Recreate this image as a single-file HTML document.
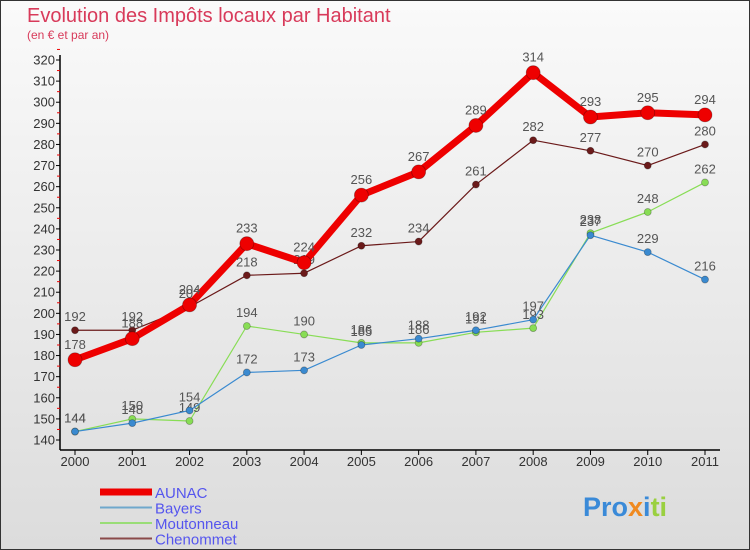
<!DOCTYPE html>
<html><head><meta charset="utf-8"><style>
body{margin:0;width:750px;height:550px;overflow:hidden;font-family:"Liberation Sans",sans-serif}
#c{position:absolute;left:0;top:0;width:748px;height:548px;border:1px solid #333;background:linear-gradient(#fafafa,#dcdcdc)}
</style></head><body>
<div id="c">
<svg id="s" width="750" height="550" style="position:absolute;left:-1px;top:-1px" font-family="Liberation Sans, sans-serif">
<text x="27" y="22" font-size="20" fill="#d83a5a">Evolution des Impôts locaux par Habitant</text>
<text x="27" y="39" font-size="12" fill="#d83a5a">(en € et par an)</text>
<g id="axes"></g><g id="plot"></g>
<text x="583" y="516" font-size="27" font-weight="bold" fill="#3a8ad8">Pro<tspan fill="#f08a20">x</tspan><tspan fill="#3a8ad8">i</tspan><tspan fill="#9ad040">ti</tspan></text>
</svg></div>
<script>
const years=[2000,2001,2002,2003,2004,2005,2006,2007,2008,2009,2010,2011];
const aunac=[178,188,204,233,224,256,267,289,314,293,295,294];
const bayers=[144,148,154,172,173,185,188,192,197,237,229,216];
const moutonneau=[144,150,149,194,190,186,186,191,193,238,248,262];
const chenommet=[192,192,203,218,219,232,234,261,282,277,270,280];
const yTicks=[140,150,160,170,180,190,200,210,220,230,240,250,260,270,280,290,300,310,320];
const NS="http://www.w3.org/2000/svg";
const x=i=>75+i*(630/(years.length-1));
const y=v=>440-(v-140)*(380/180);
function mk(t,a,p){const e=document.createElementNS(NS,t);for(const k in a)e.setAttribute(k,a[k]);p.appendChild(e);return e;}
const ax=document.getElementById('axes'),pl=document.getElementById('plot');
let l=mk('line',{x1:60,y1:55,x2:60,y2:450,stroke:'#000','stroke-width':1.5},ax);


l=mk('line',{x1:60,y1:450,x2:720,y2:450,stroke:'#000','stroke-width':1.5},ax);


yTicks.forEach(v=>{
 mk('line',{x1:56,y1:y(v),x2:60,y2:y(v),stroke:'#000'},ax);
 mk('line',{x1:57,y1:y(v+5),x2:60,y2:y(v+5),stroke:'#e00'},ax);
 const t=mk('text',{x:55,y:y(v)+4.5,'font-size':13,fill:'#333','text-anchor':'end'},ax);t.textContent=v;
 
 
});
years.forEach((yr,i)=>{
 mk('line',{x1:x(i),y1:450,x2:x(i),y2:455,stroke:'#000'},ax);
 const t=mk('text',{x:x(i),y:466,'font-size':13,fill:'#333','text-anchor':'middle'},ax);t.textContent=yr;
 
 
});
function series(d,col,w,r,name){
 const g=mk('g',{},pl);
 
 
 mk('polyline',{points:d.map((v,i)=>x(i)+','+y(v)).join(' '),fill:'none',stroke:col,'stroke-width':w,'stroke-linejoin':'round'},g);
 d.forEach((v,i)=>{
  const c=mk('circle',{cx:x(i),cy:y(v),r:r,fill:col,stroke:'rgba(0,0,0,0.3)','stroke-width':0.8},g);
  
  
  const t=mk('text',{x:x(i),y:y(v)-9-(r>5?2:0),'font-size':13,fill:'#555','text-anchor':'middle'},g);t.textContent=v;
  
  
 });
}
series(chenommet,'#6b1a1a',1.2,3.5,'chenommet');
series(moutonneau,'#88dd55',1.2,3.5,'moutonneau');
series(bayers,'#3a8ad0',1.2,3.5,'bayers');
series(aunac,'#ee0000',7,7,'aunac');
const names=['AUNAC','Bayers','Moutonneau','Chenommet'],cols=['#ee0000','#6fa8cc','#99dd77','#8a4a4a'],ws=[7,2,2,2];
names.forEach((n,i)=>{
 const yy=492+i*15.5;
 const g=mk('g',{},pl);
 
 
 mk('line',{x1:100,y1:yy,x2:152,y2:yy,stroke:cols[i],'stroke-width':ws[i]},g);
 const t=mk('text',{x:155,y:yy+6,'font-size':15,fill:'#5555ee'},g);t.textContent=n;
});
</script></body></html>
